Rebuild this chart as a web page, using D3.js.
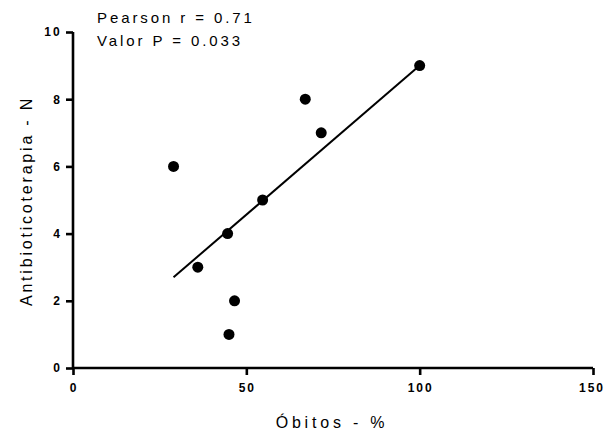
<!DOCTYPE html>
<html><head><meta charset="utf-8">
<script src="https://cdn.jsdelivr.net/npm/d3@7"></script>
<style>
body{margin:0;background:#fff;}
svg{display:block;font-family:"Liberation Sans",Arial,sans-serif;}
</style></head>
<body>
<svg id="chart" width="606" height="434"></svg>
<script>
const xValues = [29, 67, 71.6, 54.7, 44.6, 36, 46.6, 45, 100];
const yValues = [6, 8, 7, 5, 4, 3, 2, 1, 9];
const lineX = [29, 100];
const lineY = [2.7, 9.0];
const xTicks = [0, 50, 100, 150];
const yTicks = [0, 2, 4, 6, 8, 10];
const xLabel = "Óbitos - %";
const yLabel = "Antibioticoterapia - N";
const notes = ["Pearson r = 0.71", "Valor P = 0.033"];

const svg = d3.select("#chart");
const x = d3.scaleLinear().domain([0,150]).range([73,593]);
const y = d3.scaleLinear().domain([0,10]).range([368,32]);

const gx = svg.append("g").attr("transform","translate(0,368)")
  .call(d3.axisBottom(x).tickValues(xTicks).tickSize(7).tickPadding(8).tickFormat(d3.format("d")));
const gy = svg.append("g").attr("transform","translate(73,0)")
  .call(d3.axisLeft(y).tickValues(yTicks).tickSize(7).tickPadding(4).tickFormat(d3.format("d")));
[gx,gy].forEach(g=>{
  g.select(".domain").attr("stroke","#000").attr("stroke-width",2.6);
  g.selectAll(".tick line").attr("stroke","#000").attr("stroke-width",2.6);
  g.selectAll(".tick text").attr("fill","#000").style("font-size","12px").style("font-weight","bold")
   .style("letter-spacing","2.2px").style("font-family","'Liberation Sans',Arial,sans-serif");
});
gx.selectAll(".tick text").style("letter-spacing","2px").attr("dx",d=>d===150?"-1.5px":"0.5px");
gx.select(".domain").attr("d","M73,0H593");
gy.select(".domain").attr("d","M0,368V32");

svg.append("line")
  .attr("x1",x(lineX[0])).attr("y1",y(lineY[0]))
  .attr("x2",x(lineX[1])).attr("y2",y(lineY[1]))
  .attr("stroke","#000").attr("stroke-width",2);

svg.append("g").selectAll("circle").data(xValues).join("circle")
  .attr("cx",d=>x(d)).attr("cy",(d,i)=>y(yValues[i])).attr("r",5.5).attr("fill","#000");

svg.append("text").attr("x",332).attr("y",428).attr("text-anchor","middle")
  .style("font-size","16px").style("letter-spacing","3.8px").text(xLabel);
svg.append("text").attr("transform","translate(32,201) rotate(-90)").attr("text-anchor","middle")
  .style("font-size","16px").style("letter-spacing","2.8px").text(yLabel);

notes.forEach((t,i)=>{
  svg.append("text").attr("x",97).attr("y",23+i*23)
    .style("font-size","15px").style("letter-spacing","2.9px").text(t);
});
</script>
</body></html>
